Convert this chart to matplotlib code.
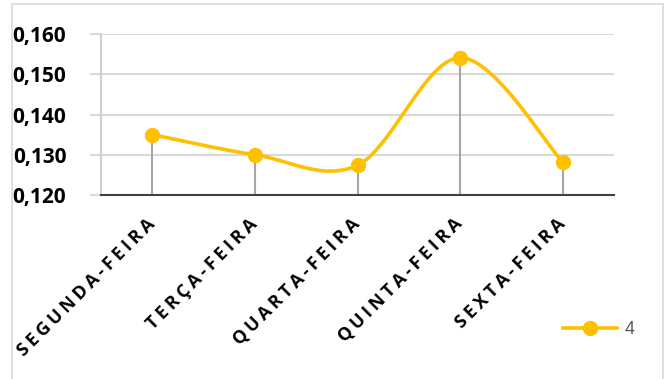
import numpy as np
import matplotlib.pyplot as plt
from matplotlib.patches import Rectangle

# weekday values
days = ['SEGUNDA-FEIRA', 'TERÇA-FEIRA', 'QUARTA-FEIRA', 'QUINTA-FEIRA', 'SEXTA-FEIRA']
values = [0.135, 0.130, 0.1274, 0.1541, 0.1282]
series_name = '4'
yticks = [0.120, 0.130, 0.140, 0.150, 0.160]

yellow = '#FFC000'


def smooth(xs, ys, n=40):
    # catmull-rom style bezier through the points, like office "smoothed line"
    xs = np.asarray(xs, float)
    ys = np.asarray(ys, float)
    px = np.concatenate([[xs[0]], xs, [xs[-1]]])
    py = np.concatenate([[ys[0]], ys, [ys[-1]]])
    out_x, out_y = [], []
    t = np.linspace(0, 1, n)
    for i in range(1, len(px) - 2):
        p0 = np.array([px[i], py[i]])
        p3 = np.array([px[i + 1], py[i + 1]])
        c1 = p0 + (np.array([px[i + 1], py[i + 1]]) - np.array([px[i - 1], py[i - 1]])) / 6
        c2 = p3 - (np.array([px[i + 2], py[i + 2]]) - np.array([px[i], py[i]])) / 6
        b = (np.outer((1 - t) ** 3, p0) + np.outer(3 * (1 - t) ** 2 * t, c1)
             + np.outer(3 * (1 - t) * t ** 2, c2) + np.outer(t ** 3, p3))
        out_x.extend(b[:, 0])
        out_y.extend(b[:, 1])
    return out_x, out_y


fig = plt.figure(figsize=(6.65, 3.79), dpi=100)
ax = fig.add_axes([101 / 665, 1 - 195 / 379, 513 / 665, 161 / 379])

# chart frame
fig.patches.append(Rectangle((12 / 665, -0.05), 651 / 665, 1.04, transform=fig.transFigure,
                             fill=False, edgecolor='#D9D9D9', linewidth=1.2))

x = np.arange(len(days))
ax.set_xlim(-0.5, len(days) - 0.5)
ax.set_ylim(yticks[0], yticks[-1])

for yv in yticks[1:]:
    ax.axhline(yv, color='#D9D9D9', linewidth=1.5, zorder=1)

# drop lines
ax.vlines(x, yticks[0], values, color='#A6A6A6', linewidth=1.5, zorder=2)

sx, sy = smooth(x, values)
ax.plot(sx, sy, color=yellow, linewidth=2.6, zorder=3, solid_capstyle='round')
ax.plot(x, values, linestyle='none', marker='o', markersize=10, color=yellow, zorder=4)

# legend handle
ax.plot([], [], color=yellow, linewidth=2.6, marker='o', markersize=10, label=series_name)
leg = fig.legend(loc='center left', bbox_to_anchor=(547 / 665, 1 - 330 / 379), frameon=False,
                 handlelength=3.0, handletextpad=0.4, prop={'family': 'Liberation Sans', 'size': 13})
for t in leg.get_texts():
    t.set_color('#595959')

for side in ['top', 'right']:
    ax.spines[side].set_visible(False)
ax.spines['bottom'].set_color('#404040')
ax.spines['bottom'].set_linewidth(1.5)
ax.spines['left'].set_color('#D0D0D0')
ax.spines['left'].set_linewidth(1.5)

ax.set_yticks(yticks)
ax.set_yticklabels([f'{v:.3f}'.replace('.', ',') for v in yticks],
                   fontfamily='Open Sans', fontweight='bold', fontsize=15)
ax.tick_params(axis='y', length=8, width=1.5, color='#D9D9D9', pad=17)

ax.set_xticks(x)
spaced = ['\u2009'.join(d) for d in days]
ax.set_xticklabels(spaced, rotation=45, ha='right', va='center', rotation_mode='anchor',
                   fontfamily=['Open Sans', 'DejaVu Sans'], fontweight='bold', fontsize=13)
ax.tick_params(axis='x', length=0, pad=19)

fig.savefig('out.png', dpi=100)
